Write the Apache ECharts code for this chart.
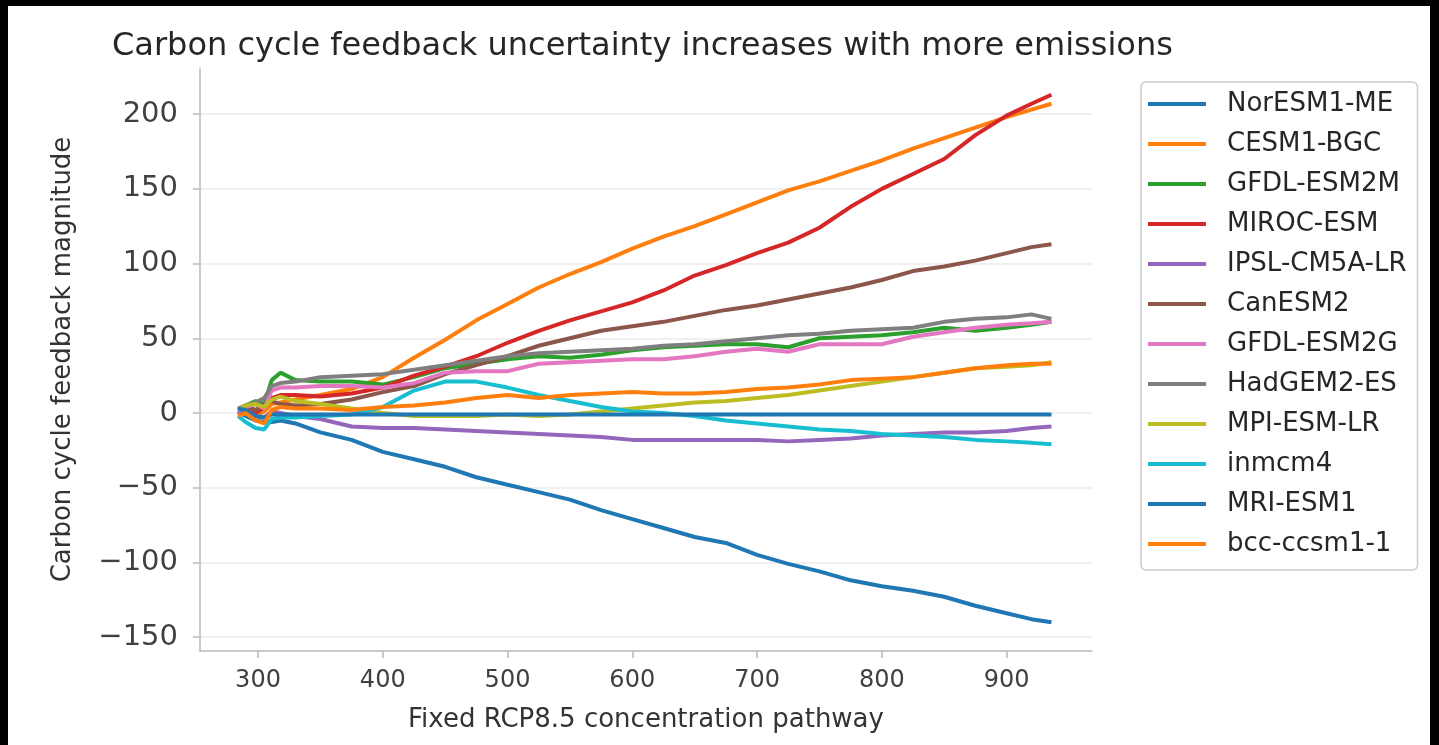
<!DOCTYPE html>
<html><head><meta charset="utf-8">
<script src="https://cdn.jsdelivr.net/npm/echarts@6/dist/echarts.min.js"></script>
<style>html,body{margin:0;padding:0;background:#fff;} #c{width:1439px;height:745px;}</style>
</head><body><div id="c"></div>
<script>
// CO2 concentration (ppm) sample points
const concentration = [284, 290, 298, 305, 311, 318, 330, 350, 375, 400, 425, 450, 475, 500, 525, 550, 575, 600, 625, 650, 675, 700, 725, 750, 775, 800, 825, 850, 875, 900, 920, 936];

const modelNames = ['NorESM1-ME', 'CESM1-BGC', 'GFDL-ESM2M', 'MIROC-ESM', 'IPSL-CM5A-LR', 'CanESM2', 'GFDL-ESM2G', 'HadGEM2-ES', 'MPI-ESM-LR', 'inmcm4', 'MRI-ESM1', 'bcc-ccsm1-1'];

const norESM1ME = [1, -2, -5, -6, -6, -5, -7, -13, -18, -26, -31, -36, -43, -48, -53, -58, -65, -71, -77, -83, -87, -95, -101, -106, -112, -116, -119, -123, -129, -134, -138, -140];
const cesm1BGC = [0, 2, -2, 1, 6, 7, 9, 12, 16, 24, 37, 49, 62, 73, 84, 93, 101, 110, 118, 125, 133, 141, 149, 155, 162, 169, 177, 184, 191, 198, 203, 207];
const gfdlESM2M = [2, 5, 8, 6, 22, 27, 22, 21, 21, 19, 24, 30, 33, 36, 38, 37, 39, 42, 44, 45, 46, 46, 44, 50, 51, 52, 54, 57, 55, 57, 59, 61];
const mirocESM = [2, 3, 0, 4, 10, 12, 12, 11, 13, 17, 25, 31, 38, 47, 55, 62, 68, 74, 82, 92, 99, 107, 114, 124, 138, 150, 160, 170, 186, 199, 207, 213];
const ipslCM5ALR = [0, 1, -2, -3, 1, 0, -2, -4, -9, -10, -10, -11, -12, -13, -14, -15, -16, -18, -18, -18, -18, -18, -19, -18, -17, -15, -14, -13, -13, -12, -10, -9];
const canESM2 = [3, 5, 2, 6, 8, 6, 5, 6, 9, 14, 18, 26, 32, 38, 45, 50, 55, 58, 61, 65, 69, 72, 76, 80, 84, 89, 95, 98, 102, 107, 111, 113];
const gfdlESM2G = [3, 4, 6, 3, 15, 17, 17, 18, 18, 17, 20, 27, 28, 28, 33, 34, 35, 36, 36, 38, 41, 43, 41, 46, 46, 46, 51, 54, 57, 59, 60, 61];
const hadGEM2ES = [2, 5, 7, 10, 18, 20, 21, 24, 25, 26, 29, 32, 35, 38, 40, 41, 42, 43, 45, 46, 48, 50, 52, 53, 55, 56, 57, 61, 63, 64, 66, 63];
const mpiESMLR = [2, 5, 6, 4, 9, 11, 8, 6, 3, 0, -2, -2, -2, -1, -2, -1, 1, 3, 5, 7, 8, 10, 12, 15, 18, 21, 24, 27, 30, 31, 32, 34];
const inmcm4 = [-2, -6, -10, -11, -4, -3, -3, -2, -1, 4, 15, 21, 21, 17, 12, 8, 4, 1, 0, -2, -5, -7, -9, -11, -12, -14, -15, -16, -18, -19, -20, -21];
const mriESM1 = [3, 2, -2, -3, -1, -1, -1, -1, -1, -1, -1, -1, -1, -1, -1, -1, -1, -1, -1, -1, -1, -1, -1, -1, -1, -1, -1, -1, -1, -1, -1, -1];
const bccCsm11 = [-2, 0, -5, -7, 2, 4, 3, 3, 2, 4, 5, 7, 10, 12, 10, 12, 13, 14, 13, 13, 14, 16, 17, 19, 22, 23, 24, 27, 30, 32, 33, 33];

const xTicks = [300, 400, 500, 600, 700, 800, 900];
const yTicks = [-150, -100, -50, 0, 50, 100, 150, 200];

const seriesValues = [norESM1ME, cesm1BGC, gfdlESM2M, mirocESM, ipslCM5ALR, canESM2, gfdlESM2G, hadGEM2ES, mpiESMLR, inmcm4, mriESM1, bccCsm11];
const palette = ['#1f77b4', '#ff7f0e', '#2ca02c', '#d62728', '#9467bd', '#8c564b', '#e377c2', '#7f7f7f', '#bcbd22', '#17becf', '#1f77b4', '#ff7f0e'];

const FONT = 'DejaVu Sans';
const chart = echarts.init(document.getElementById('c'), null, {renderer: 'canvas'});

const series = modelNames.map((name, k) => ({
  name: name,
  type: 'line',
  showSymbol: false,
  symbol: 'none',
  data: concentration.map((x, i) => [x, seriesValues[k][i]]),
  lineStyle: {width: 4, color: palette[k]},
  itemStyle: {color: palette[k]},
  emphasis: {disabled: true},
  z: 2 + k
}));

chart.setOption({
  animation: false,
  backgroundColor: '#fff',
  title: {
    text: 'Carbon cycle feedback uncertainty increases with more emissions',
    left: 107, top: 26,
    textStyle: {fontFamily: FONT, fontSize: 32, fontWeight: 'normal', color: '#262626'}
  },
  grid: {left: 200, top: 68, width: 892, height: 583, containLabel: false},
  legend: {
    data: modelNames,
    orient: 'vertical',
    left: 1141, top: 82,
    icon: 'rect',
    itemWidth: 58, itemHeight: 4, itemGap: 12,
    padding: [8, 11, 12, 7],
    borderColor: '#cccccc', borderWidth: 1.5, borderRadius: 5,
    backgroundColor: '#fff',
    textStyle: {fontFamily: FONT, fontSize: 26, color: '#262626', lineHeight: 28, padding: [0, 0, 0, 16]}
  },
  xAxis: {
    type: 'value', min: 253.5, max: 968.5,
    name: 'Fixed RCP8.5 concentration pathway',
    nameLocation: 'middle', nameGap: 56,
    nameTextStyle: {fontFamily: FONT, fontSize: 26, color: '#333'},
    axisLine: {show: true, onZero: false, lineStyle: {color: '#bbbbbb', width: 1.5}},
    axisTick: {show: true, length: 7, customValues: xTicks, lineStyle: {color: '#bbbbbb', width: 1.5}},
    axisLabel: {customValues: xTicks, fontFamily: FONT, fontSize: 24, color: '#404040', margin: 18},
    splitLine: {show: false}
  },
  yAxis: {
    type: 'value', min: -159.3, max: 230.9,
    name: 'Carbon cycle feedback magnitude',
    nameLocation: 'middle', nameRotate: 90, nameGap: 124,
    nameTextStyle: {fontFamily: FONT, fontSize: 26, color: '#333'},
    axisLine: {show: true, onZero: false, lineStyle: {color: '#bbbbbb', width: 1.5}},
    axisTick: {show: true, length: 7, customValues: yTicks, lineStyle: {color: '#bbbbbb', width: 1.5}},
    axisLabel: {customValues: yTicks, fontFamily: FONT, fontSize: 29, color: '#404040', margin: 22,
      formatter: v => String(v).replace('-', '\u2212')},
    splitLine: {show: true, lineStyle: {color: '#ebebeb', width: 1.5}}
  },
  graphic: [
    {type: 'rect', shape: {x: 0, y: 0, width: 8, height: 745}, style: {fill: '#000'}, z: 100},
    {type: 'rect', shape: {x: 0, y: 0, width: 1439, height: 6}, style: {fill: '#000'}, z: 100},
    {type: 'rect', shape: {x: 1430, y: 0, width: 9, height: 745}, style: {fill: '#000'}, z: 100}
  ],
  series: series
});
</script>
</body></html>
